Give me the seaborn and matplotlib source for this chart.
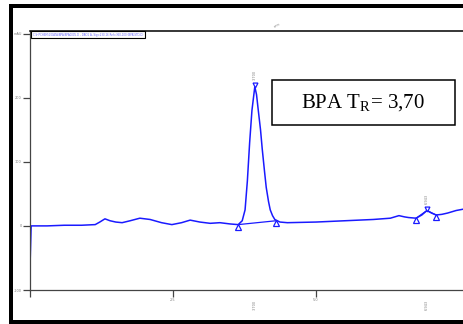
import seaborn as sns
import pandas as pd
import matplotlib.pyplot as plt
from matplotlib.patches import Rectangle

# chromatogram trace (time in min, signal in mAU)
time = [0.00, 0.02, 0.30, 0.60, 0.90, 1.14, 1.22, 1.31, 1.40, 1.50, 1.61, 1.75,
        1.92, 2.10, 2.30, 2.48, 2.65, 2.80, 2.97, 3.15, 3.32, 3.50, 3.64, 3.71,
        3.76, 3.80, 3.84, 3.88, 3.93, 3.96, 3.99, 4.03, 4.06, 4.10, 4.13, 4.17,
        4.20, 4.24, 4.28, 4.37, 4.50, 5.00, 5.50, 6.00, 6.30, 6.45, 6.55, 6.62,
        6.75, 6.85, 6.94, 7.02, 7.10, 7.20, 7.30, 7.45, 7.57]
signal = [-64, 0, 0, 1, 1, 2, 6, 11, 8, 6, 5, 8,
          12, 10, 5, 2, 5, 9, 6, 4, 5, 3, 2, 8,
          25, 70, 130, 180, 217, 205, 181, 150, 120, 85, 60, 38,
          25, 16, 10, 6, 5, 6, 8, 10, 12, 16, 14, 13,
          12, 17, 24, 20, 17, 18, 20, 24, 26]

# integration marks
peak_time = [3.93, 6.94]
peak_height = [217, 24]
peak_label = ["3.700", "6.943"]
base_time = [3.64, 4.30, 6.75, 7.10]
base_value = [2, 8, 12, 17]

yticks = [-100, 0, 100, 200, 300]
xticks = [0, 2.5, 5.0]
xtick_labels = ["", "2.5", "5.0"]

sns.set_theme(style="ticks")
plt.rcParams['font.family'] = ['DejaVu Sans']

fig = plt.figure(figsize=(4.64, 3.24), dpi=100)
ax = fig.add_axes([30 / 464, 34 / 324, 433 / 464, 259 / 324])

df = pd.DataFrame({"time": time, "signal": signal})
sns.lineplot(data=df, x="time", y="signal", ax=ax, color="#1a1aff",
             linewidth=1.1, sort=False, estimator=None)

# baselines under peaks
ax.plot(base_time[:2], base_value[:2], color="#1a1aff", lw=0.9)
ax.plot([base_time[2], peak_time[1], base_time[3]],
        [base_value[2], peak_height[1], base_value[3]], color="#1a1aff", lw=0.9)
ax.plot(base_time, [v - 3 for v in base_value], ls="none", marker="^",
        ms=4, mfc="white", mec="#1a1aff", mew=0.9)
ax.plot(peak_time, [h + 3 for h in peak_height], ls="none", marker="v",
        ms=3.5, mfc="white", mec="#1a1aff", mew=0.9)
for t, h, lab in zip(peak_time, peak_height, peak_label):
    ax.text(t, h + 10, lab, rotation=90, fontsize=2.5, color="gray",
            ha="center", va="bottom")
    ax.text(t, -0.04, lab, rotation=90, fontsize=2.5, color="gray",
            ha="center", va="top", transform=ax.get_xaxis_transform())

ax.set_xlim(0, 7.57)
ax.set_ylim(-100, 304)
ax.set_xticks(xticks)
ax.set_xticklabels(xtick_labels)
ax.set_yticks(yticks)
ax.set_yticklabels(["-100", "0", "100", "200", "mAU"])
ax.tick_params(labelsize=2.5, labelcolor="gray", length=5, width=0.9,
               color="#444444", pad=1)
ax.set_xlabel("")
ax.set_ylabel("")
for side in ["left", "bottom"]:
    ax.spines[side].set_color("#444444")
    ax.spines[side].set_linewidth(0.9)
ax.spines["top"].set_color("black")
ax.spines["top"].set_linewidth(1.1)
ax.spines["right"].set_visible(False)
ax.text(0.57, 1.01, "min", fontsize=2.5, color="gray", rotation=30,
        transform=ax.transAxes, ha="center", va="bottom")

ax.text(0.006, 0.993, "C:\\HPCHEM\\1\\DATA\\BPA\\BPA0005.D - DAD1 A, Sig=230,16 Ref=360,100 (BPA\\STD.D)",
        fontsize=1.9, color="#6b6bff", transform=ax.transAxes, ha="left", va="top",
        bbox=dict(boxstyle="square,pad=0.6", fc="white", ec="black", lw=0.8))

# label box
fig.add_artist(Rectangle((272 / 464, (324 - 125) / 324), 183 / 464, 45 / 324,
                         transform=fig.transFigure, fc="white", ec="black", lw=1.1))
fig.text(363 / 464, (324 - 103) / 324, "BPA T$_\\mathregular{R}$= 3,70",
         family=["Liberation Serif"], fontsize=15, color="black",
         ha="center", va="center")

# picture frame
for x0, y0, w, h in [(9, 4, 455, 4), (9, 4, 4, 320), (9, 320, 455, 4)]:
    fig.add_artist(Rectangle((x0 / 464, (324 - y0 - h) / 324), w / 464, h / 324,
                             transform=fig.transFigure, fc="black", ec="none"))

fig.savefig("out.png", dpi=100)
